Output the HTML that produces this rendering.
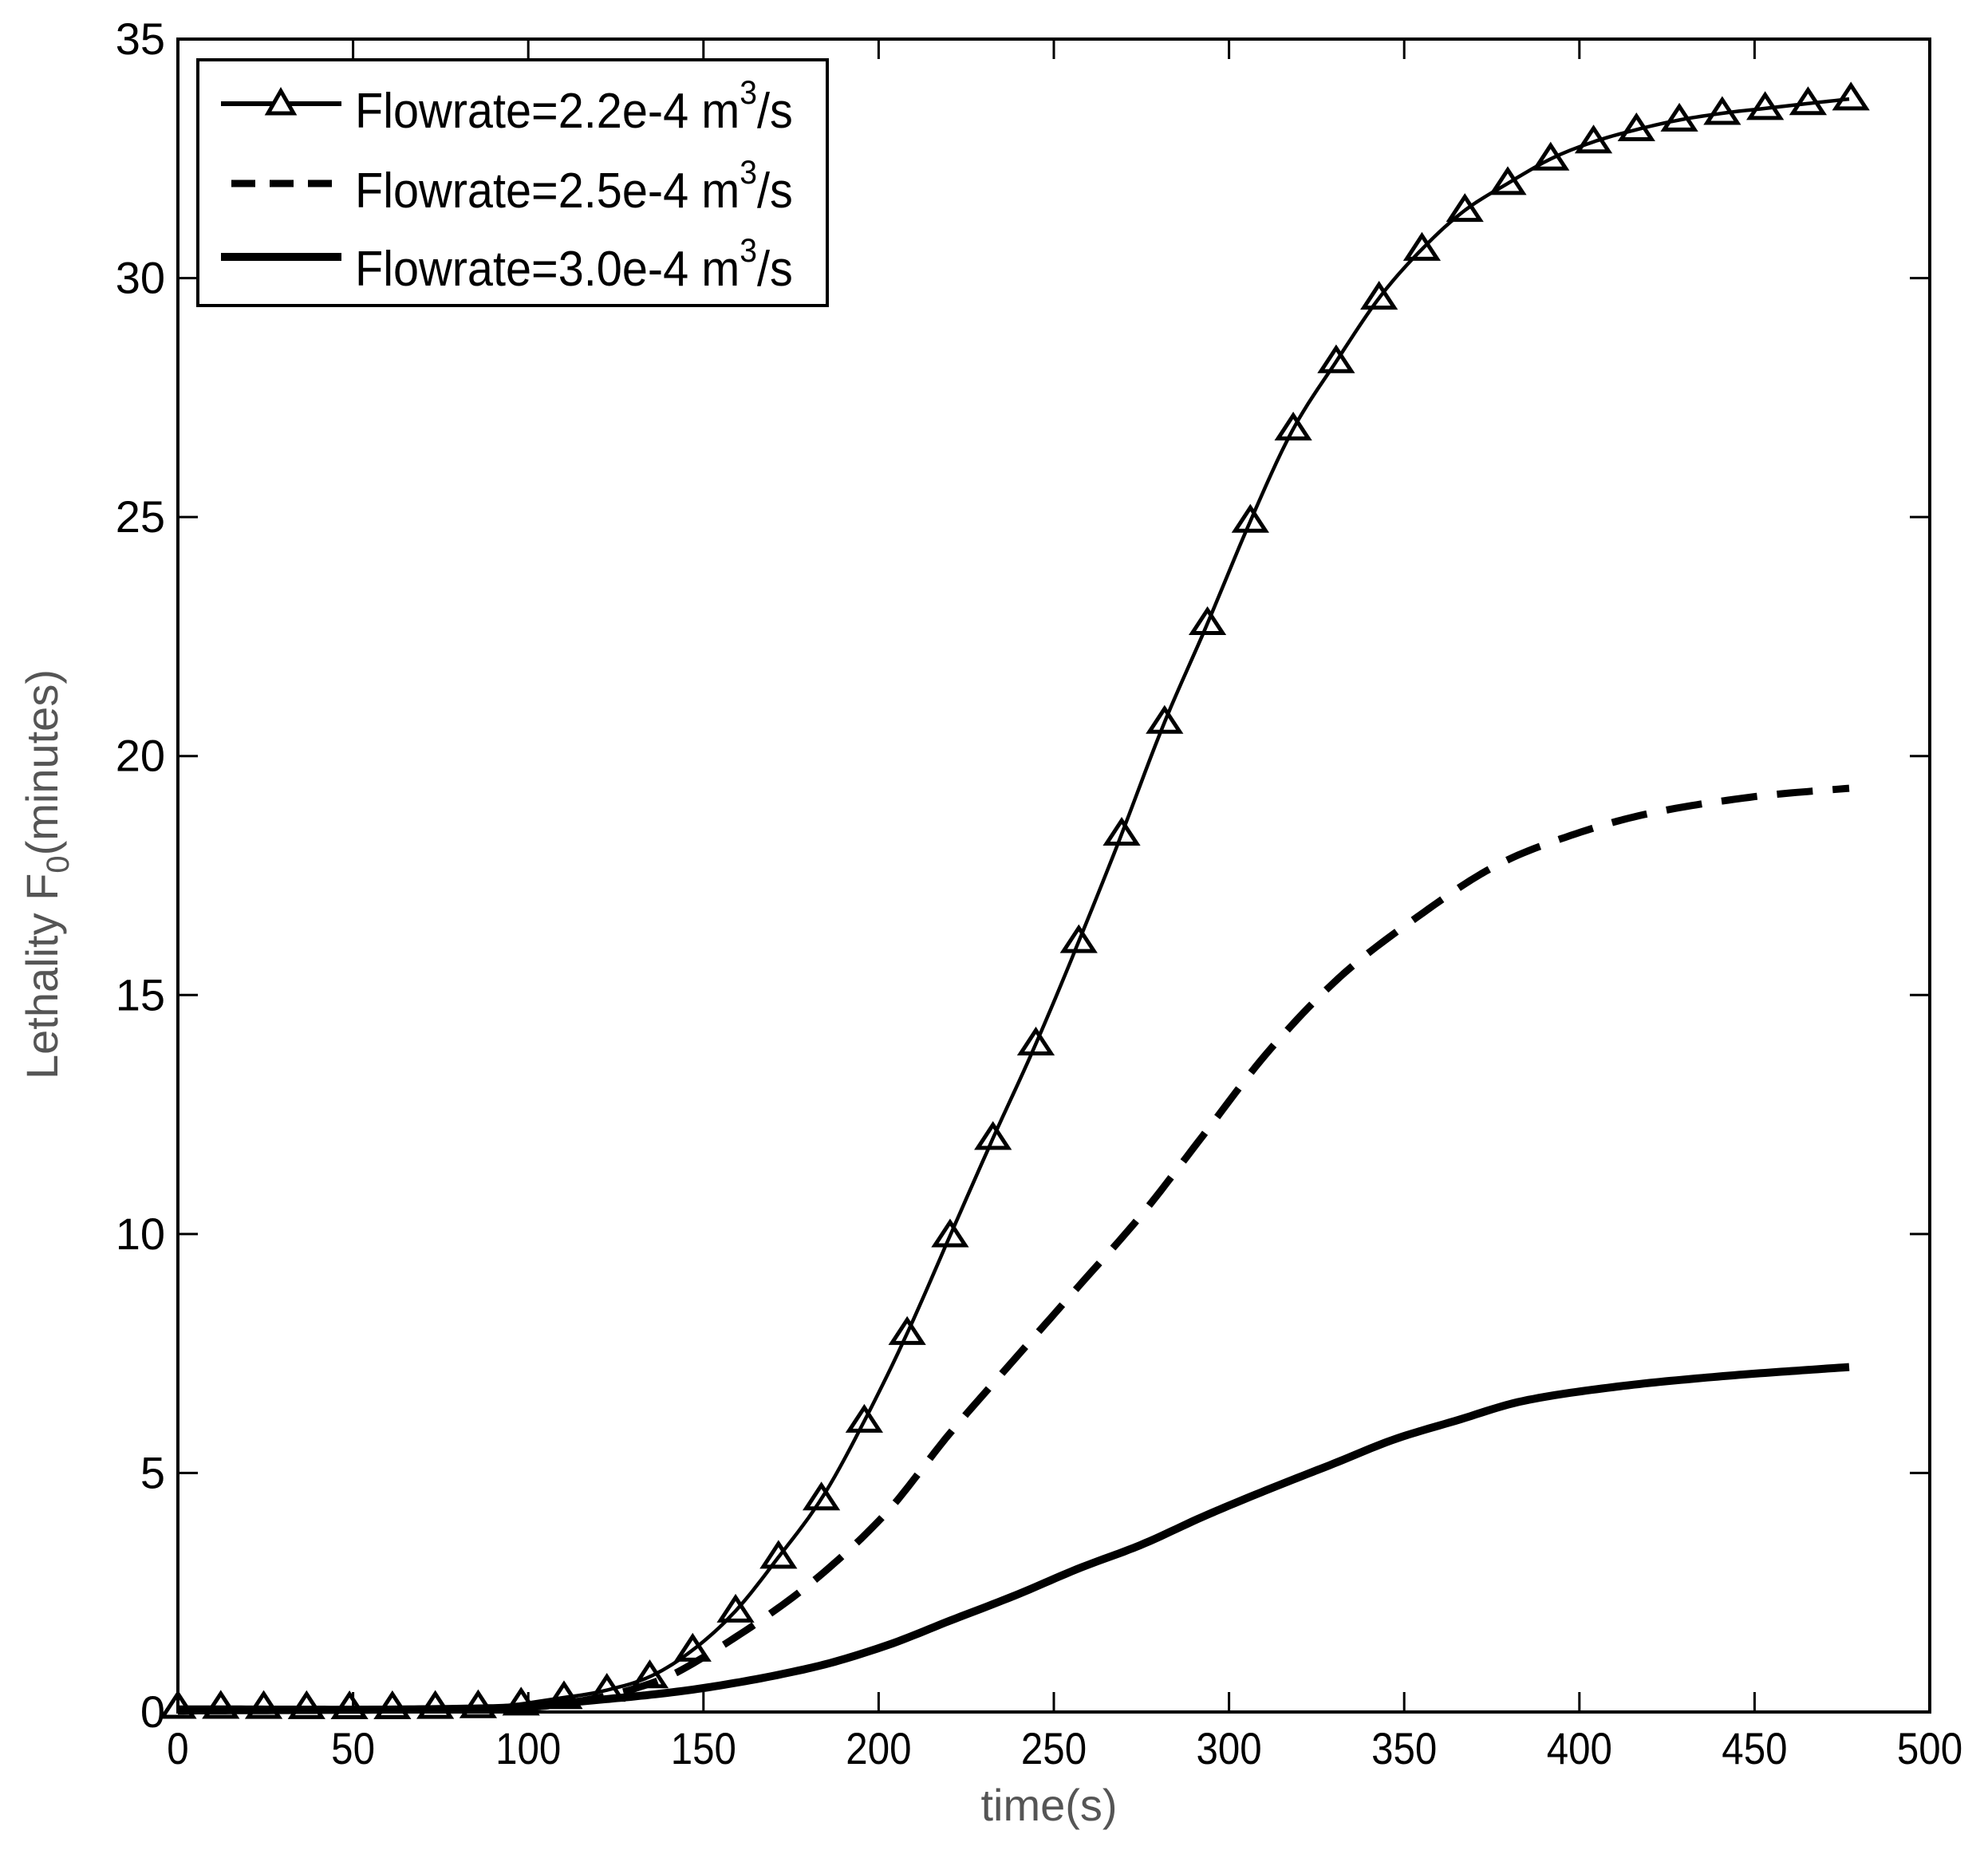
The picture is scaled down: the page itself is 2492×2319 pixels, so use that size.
<!DOCTYPE html>
<html><head><meta charset="utf-8"><style>
html,body{margin:0;padding:0;background:#fff;width:2492px;height:2319px;overflow:hidden}
text{font-family:"Liberation Sans",sans-serif}
</style></head><body>
<svg id="s" width="2492" height="2319" xmlns="http://www.w3.org/2000/svg">
<rect width="2492" height="2319" fill="#fff"/>
<g id="axes"></g>
<g id="data"></g>
<rect x="223" y="49" width="2196" height="2097" fill="none" stroke="#000" stroke-width="4"/>
<g>
<rect x="248" y="75" width="789" height="308" fill="#fff" stroke="#000" stroke-width="4"/>
<line x1="277" y1="130" x2="428" y2="130" stroke="#000" stroke-width="6"/>
<path d="M352,114 L368,142 L336,142 Z" fill="#fff" stroke="#000" stroke-width="5"/>
<line x1="290" y1="230" x2="428" y2="230" stroke="#000" stroke-width="9" stroke-dasharray="30,18"/>
<line x1="277" y1="322" x2="428" y2="322" stroke="#000" stroke-width="10"/>
<g font-size="62" fill="#000" transform="translate(445,0) scale(0.93,1)">
<text x="0" y="160">Flowrate=2.2e-4 m<tspan dy="-30" font-size="42">3</tspan><tspan dy="30">/s</tspan></text>
<text x="0" y="260">Flowrate=2.5e-4 m<tspan dy="-30" font-size="42">3</tspan><tspan dy="30">/s</tspan></text>
<text x="0" y="358">Flowrate=3.0e-4 m<tspan dy="-30" font-size="42">3</tspan><tspan dy="30">/s</tspan></text>
</g>
</g>
<text x="1315" y="2282" font-size="56" fill="#555" text-anchor="middle">time(s)</text>
<text transform="translate(72,1096) rotate(-90)" font-size="56" fill="#555" text-anchor="middle">Lethality F<tspan dy="14" font-size="40">0</tspan><tspan dy="-14">(minutes)</tspan></text>
</svg>
<script>
const X0=223,X1=2419,Y0=2146,Y1=49;
const sx=t=>X0+(X1-X0)*t/500, sy=v=>Y0-(Y0-Y1)*v/35;
const ax=document.getElementById('axes'),dg=document.getElementById('data');
let h='';
for(let i=0;i<=10;i++){const x=sx(i*50);
h+=`<line x1="${x}" y1="${Y0}" x2="${x}" y2="${Y0-25}" stroke="#000" stroke-width="3"/><line x1="${x}" y1="${Y1}" x2="${x}" y2="${Y1+25}" stroke="#000" stroke-width="3"/>`;
h+=`<text x="${x}" y="2211" font-size="56" text-anchor="middle" transform="translate(${x*0.12},0) scale(0.88,1)" >${i*50}</text>`;}
for(let i=0;i<=7;i++){const y=sy(i*5);
h+=`<line x1="${X0}" y1="${y}" x2="${X0+25}" y2="${y}" stroke="#000" stroke-width="3"/><line x1="${X1}" y1="${y}" x2="${X1-25}" y2="${y}" stroke="#000" stroke-width="3"/>`;
h+=`<text x="207" y="${y+19}" font-size="56" text-anchor="end">${i*5}</text>`;}
ax.innerHTML=h;
function interp(pts,t){for(let i=0;i<pts.length-1;i++){const[a,va]=pts[i],[b,vb]=pts[i+1];
 if(t<=b){const p0=pts[Math.max(0,i-1)],p3=pts[Math.min(pts.length-1,i+2)];const u=(t-a)/(b-a);
 const m1=(vb-p0[1])/(b-p0[0])*(b-a),m2=(p3[1]-va)/(p3[0]-a)*(b-a);
 const u2=u*u,u3=u2*u;return (2*u3-3*u2+1)*va+(u3-2*u2+u)*m1+(-2*u3+3*u2)*vb+(u3-u2)*m2;}}return pts[pts.length-1][1];}
const A=[[0,0.1],[90,0.12],[110,0.3],[122,0.45],[135,0.75],[147,1.3],[159,2.1],[171,3.2],[184,4.5],[196,6.1],[208,7.9],[220,9.9],[232,11.9],[245,14.0],[257,16.1],[269,18.3],[281,20.6],[294,22.8],[306,24.9],[318,26.8],[331,28.3],[343,29.6],[355,30.6],[367,31.4],[380,32.0],[392,32.5],[404,32.85],[416,33.1],[428,33.3],[441,33.45],[453,33.55],[465,33.65],[477.5,33.75]];
const B=[[0,0.05],[100,0.1],[120,0.3],[135,0.6],[145,0.93],[166,1.9],[184,2.9],[202.6,4.2],[220,5.8],[239,7.4],[257,8.9],[275,10.4],[293,12.1],[311,13.8],[332,15.4],[355,16.7],[376,17.7],[398,18.35],[420,18.8],[450,19.15],[477.5,19.33]];
const C=[[0,0.03],[90,0.08],[112,0.2],[148,0.48],[181,0.93],[202.6,1.4],[220,1.9],[239,2.44],[257,3.0],[275,3.5],[293,4.1],[311,4.65],[330,5.2],[347,5.7],[365,6.1],[383.5,6.5],[410,6.8],[440,7.02],[477.5,7.22]];
function line(pts,w,dash){let p=[];for(let t=0;t<=477.5;t+=1.5)p.push(sx(t).toFixed(1)+','+sy(Math.max(0,interp(pts,t))).toFixed(1));
 return `<polyline points="${p.join(' ')}" fill="none" stroke="#000" stroke-width="${w}" stroke-linejoin="round" ${dash?'stroke-dasharray="45,25"':''}/>`;}
let d=line(C,10,false)+line(B,9,true)+line(A,4.5,false);
for(let i=0;i<40;i++){const t=i*477.5/39;const x=sx(t),y=sy(interp(A,t));
 d+=`<path d="M${x},${y-17} L${x+19},${y+12} L${x-19},${y+12} Z" fill="none" stroke="#000" stroke-width="5"/>`;}
dg.innerHTML=d;
</script>
</body></html>
